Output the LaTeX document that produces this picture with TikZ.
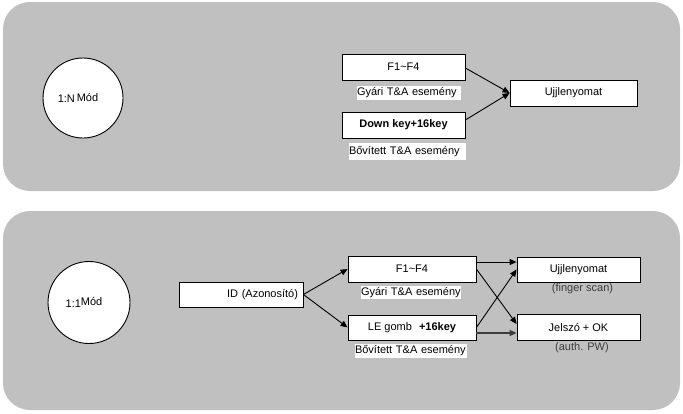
\documentclass[tikz,border=0pt]{standalone}
\usepackage{fontspec}
\setmainfont{Liberation Sans}
\usetikzlibrary{arrows.meta}
\definecolor{panelgray}{RGB}{192,192,192}
\definecolor{notegray}{RGB}{60,60,60}
\tikzset{
  panel/.style={fill=panelgray, draw=none, rounded corners=27pt},
  modecircle/.style={circle, draw=black, fill=white, line width=0.9pt, minimum size=#1, inner sep=0pt, font=\fontsize{11}{13}\selectfont},
  keybox/.style={draw=black, fill=white, line width=0.8pt, inner sep=0pt, font=\fontsize{11}{13}\selectfont},
  evlabel/.style={fill=white, inner sep=0pt, align=left, font=\fontsize{11}{13}\selectfont},
  note/.style={inner sep=0pt, text=notegray, font=\fontsize{11}{13}\selectfont},
  conn/.style={line width=0.9pt, -{Triangle[length=7pt,width=6pt]}},
  connthick/.style={line width=1.5pt, draw=notegray, -{Triangle[length=7pt,width=6pt]}, color=notegray},
}
\begin{document}
\begin{tikzpicture}[x=1pt,y=-1pt]
\useasboundingbox (0,0) rectangle (683,413);
% panels
\fill[panel] (3,2) rectangle (680,191);
\fill[panel] (3,211) rectangle (680,410);

% ---------- top panel ----------
\node[modecircle=80pt] (modeN) at (83,98) {1:N\raisebox{1pt}{\,Mód}\hspace*{10pt}};
\node[keybox, minimum width=123pt, minimum height=26pt] (tf) at (403.5,67) {F1\textasciitilde F4};
\node[evlabel, minimum height=14pt, text width=104pt] (tgy) at (409,93) {\mbox{Gyári T\&A esemény}};
\node[keybox, minimum width=123pt, minimum height=26pt] (tdk) at (403.5,125) {\textbf{Down key+16key}};
\node[evlabel, minimum height=17pt, text width=117pt] (tbo) at (407.5,151.5) {\mbox{Bővített T\&A esemény}};
\node[keybox, minimum width=127pt, minimum height=26pt] (tuj) at (573.5,93) {Ujjlenyomat};

\draw[conn] ([yshift=-1pt]tf.east) -- (tuj.west);
\draw[conn] ([yshift=5pt]tdk.east) -- (tuj.west);

% ---------- bottom panel ----------
\node[modecircle=82pt] (mode1) at (89,302.5) {1:1\raisebox{2pt}{Mód}\hspace*{10pt}};
\node[keybox, minimum width=124pt, minimum height=25pt, text width=114pt, align=right] (bid) at (241,294.5) {ID (Azonosító)};
\node[keybox, minimum width=128pt, minimum height=26pt] (bf) at (412,269) {F1\textasciitilde F4};
\node[evlabel, minimum height=13pt, text width=100pt] (bgy) at (411,292.5) {\mbox{Gyári T\&A esemény}};
\node[keybox, minimum width=128pt, minimum height=25pt] (ble) at (412,327.5) {LE gomb\hspace{7pt}\textbf{+16key}};
\node[evlabel, minimum height=14pt, text width=112pt] (bbo) at (411,351) {\mbox{Bővített T\&A esemény}};
\node[keybox, minimum width=123pt, minimum height=25pt] (buj) at (578.5,269.5) {Ujjlenyomat};
\node[note] (bfs) at (582.5,289) {(finger scan)};
\node[keybox, minimum width=123pt, minimum height=26pt] (bje) at (578.5,327) {Jelszó + OK};
\node[note] (bpw) at (582,348) {(auth. PW)};

\draw[conn] (bid.east) -- (bf.west);
\draw[conn] (bid.east) -- (ble.west);
\draw[conn] ([yshift=7pt]bf.east) -- ([yshift=7.5pt]buj.west);
\draw[conn] (bf.east) -- ([yshift=3pt]bje.west);
\draw[conn] (ble.east) -- (buj.west);
\draw[connthick] ([yshift=-5.5pt]ble.east) -- ([yshift=-6pt]bje.west);
\end{tikzpicture}
\end{document}
